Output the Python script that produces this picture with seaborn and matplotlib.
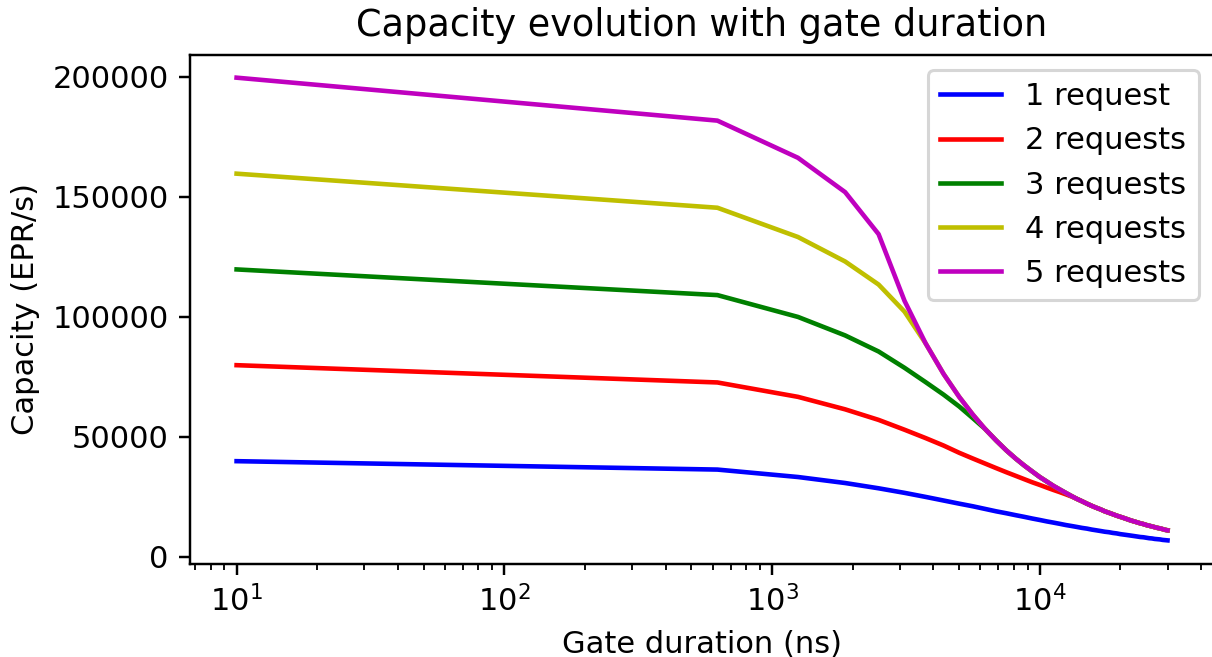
import pandas as pd
import seaborn as sns
import matplotlib
matplotlib.use("Agg")
import matplotlib.pyplot as plt

# gate durations (ns)
gate_ns = [10, 625, 1250, 1875, 2500, 3125, 3750, 4375, 5000, 5625,
           6250, 6875, 7500, 8125, 8750, 9375, 10000, 10625, 11250, 11875,
           12500, 13125, 13750, 14375, 15000, 15625, 16250, 16875, 17500, 18125,
           18750, 19375, 20000, 20625, 21250, 21875, 22500, 23125, 23750, 24375,
           25000, 25625, 26250, 26875, 27500, 28125, 28750, 29375, 30000]

# capacity values (EPR/s)
req1 = [39900, 36400, 33300, 30800, 28600, 26700, 25000, 23500, 22200, 21100,
        20000, 19000, 18200, 17400, 16700, 16000, 15400, 14800, 14300, 13800,
        13300, 12900, 12500, 12100, 11800, 11400, 11100, 10800, 10500, 10300,
        10000, 9800, 9500, 9300, 9100, 8900, 8700, 8500, 8300, 8200,
        8000, 7800, 7700, 7500, 7400, 7300, 7100, 7000, 6900]
req2 = [79900, 72700, 66700, 61500, 57100, 53000, 49500, 46400, 43400, 41000,
        38900, 37000, 35300, 33800, 32400, 31100, 30000, 28900, 27900, 27000,
        26100, 25200, 24200, 23200, 22200, 21300, 20500, 19800, 19000, 18400,
        17800, 17200, 16700, 16200, 15700, 15200, 14800, 14400, 14000, 13700,
        13300, 13000, 12700, 12400, 12100, 11900, 11600, 11300, 11100]
req3 = [119800, 109100, 100000, 92300, 85600, 78800, 72800, 67600, 62700, 57800,
        53300, 48500, 44400, 41000, 38100, 35600, 33300, 31400, 29600, 28100,
        26700, 25400, 24200, 23200, 22200, 21300, 20500, 19800, 19000, 18400,
        17800, 17200, 16700, 16200, 15700, 15200, 14800, 14400, 14000, 13700,
        13300, 13000, 12700, 12400, 12100, 11900, 11600, 11300, 11100]
req4 = [159700, 145500, 133300, 123100, 113500, 102200, 88900, 76200, 66700, 59300,
        53300, 48500, 44400, 41000, 38100, 35600, 33300, 31400, 29600, 28100,
        26700, 25400, 24200, 23200, 22200, 21300, 20500, 19800, 19000, 18400,
        17800, 17200, 16700, 16200, 15700, 15200, 14800, 14400, 14000, 13700,
        13300, 13000, 12700, 12400, 12100, 11900, 11600, 11300, 11100]
req5 = [199700, 181800, 166300, 152000, 134500, 106700, 88900, 76200, 66700, 59300,
        53300, 48500, 44400, 41000, 38100, 35600, 33300, 31400, 29600, 28100,
        26700, 25400, 24200, 23200, 22200, 21300, 20500, 19800, 19000, 18400,
        17800, 17200, 16700, 16200, 15700, 15200, 14800, 14400, 14000, 13700,
        13300, 13000, 12700, 12400, 12100, 11900, 11600, 11300, 11100]

labels = ["1 request", "2 requests", "3 requests", "4 requests", "5 requests"]
colors = ["b", "r", "g", "y", "m"]
series = [req1, req2, req3, req4, req5]

rows = []
for lab, vals in zip(labels, series):
    for g, v in zip(gate_ns, vals):
        rows.append({"gate": g, "capacity": v, "series": lab})
df = pd.DataFrame(rows)

fig = plt.figure(figsize=(1212 / 220, 657 / 220), dpi=220)
ax = fig.add_axes([0.1568, 0.1423, 0.8449, 0.7747])

sns.lineplot(data=df, x="gate", y="capacity", hue="series", hue_order=labels,
             palette=colors, estimator=None, linewidth=1.5, ax=ax)

ax.set_xscale("log")
ax.set_yticks([0, 50000, 100000, 150000, 200000])
ax.set_xlabel("Gate duration (ns)")
ax.set_ylabel("Capacity (EPR/s)")
ax.set_title("Capacity evolution with gate duration", fontsize=12)

handles, labs = ax.get_legend_handles_labels()
ax.legend(handles, labs, loc="upper right")

fig.savefig("out.png", dpi=220)
